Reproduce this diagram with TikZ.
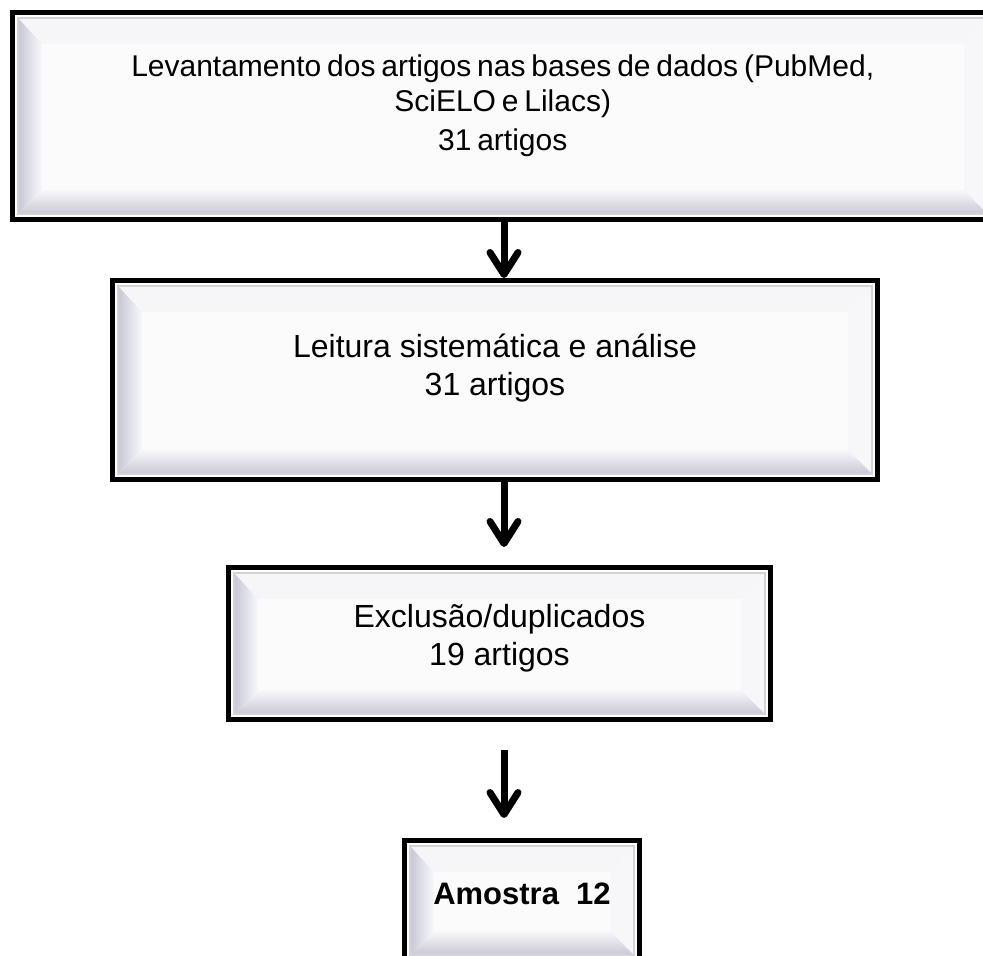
\documentclass[tikz,border=0pt]{standalone}
\usepackage{fontspec}
\setmainfont{Liberation Sans}
\newfontfamily\levfont{Liberation Sans}[WordSpace=0.7]
\usepackage{tikz}
\usetikzlibrary{arrows.meta, calc, positioning}
\definecolor{bevdark}{HTML}{C8C8D6}
\definecolor{bevlight}{HTML}{F8F8FB}
\definecolor{bevtop}{HTML}{F6F6F8}
\definecolor{bevright}{HTML}{F7F7F9}
\definecolor{bevface}{HTML}{FBFBFC}
\definecolor{bevedge}{HTML}{D4D4D8}

% bevel drawn inside a box node
\newcommand{\bevelin}[1]{%
  \coordinate (#1o1) at ($(#1.north west)+(8,8)$);
  \coordinate (#1o2) at ($(#1.north east)+(-8,8)$);
  \coordinate (#1o3) at ($(#1.south east)+(-8,-8)$);
  \coordinate (#1o4) at ($(#1.south west)+(8,-8)$);
  \coordinate (#1i1) at ($(#1o1)+(24,26)$);
  \coordinate (#1i2) at ($(#1o2)+(-24,26)$);
  \coordinate (#1i3) at ($(#1o3)+(-24,-24)$);
  \coordinate (#1i4) at ($(#1o4)+(24,-24)$);
  \fill[bevtop] (#1o1) -- (#1o2) -- (#1i2) -- (#1i1) -- cycle;
  \fill[bevright] (#1o2) -- (#1o3) -- (#1i3) -- (#1i2) -- cycle;
  \shade[left color=bevdark, right color=bevlight] (#1o1) -- (#1i1) -- (#1i4) -- (#1o4) -- cycle;
  \shade[top color=bevlight, bottom color=bevdark] (#1i4) -- (#1i3) -- (#1o3) -- (#1o4) -- cycle;
  \fill[bevface] (#1i1) rectangle (#1i3);
  \draw[bevedge, line width=1.5pt] (#1o1) rectangle (#1o3);
}

\begin{document}
\begin{tikzpicture}[x=1pt, y=-1pt,
    box/.style={draw=black, line width=5pt, fill=white, rectangle, inner sep=0pt},
    txt/.style={align=center, inner sep=0pt, font=\fontsize{32}{38}\selectfont},
    flow/.style={line width=7pt, -{Straight Barb[round, length=22pt, width=28pt]}}]
  \useasboundingbox (0,0) rectangle (983,956);
  \begin{scope}
  \clip (0,0) rectangle (983,956);

  \node[box, minimum width=980.5pt, minimum height=207pt] (lev) at (502.75,116) {};
  \node[box, minimum width=765pt, minimum height=199pt] (leit) at (495,380) {};
  \node[box, minimum width=542pt, minimum height=152pt] (excl) at (499.5,643.5) {};
  \node[box, minimum width=235pt, minimum height=120pt] (amos) at (522,900.5) {};
  \bevelin{lev}
  \bevelin{leit}
  \bevelin{excl}
  \bevelin{amos}
  \end{scope}

  \node[txt, font=\levfont\fontsize{30}{35}\selectfont] (levtxt) at ([yshift=10pt]lev.center)
    {Levantamento dos artigos nas bases de dados (PubMed,\\SciELO e Lilacs)\\[4pt]31 artigos};
  \node[txt] (leittxt) at ([yshift=12pt]leit.center) {Leitura sistemática e análise\\31 artigos};
  \node[txt] (excltxt) at ([yshift=5pt]excl.center) {Exclusão/duplicados\\19 artigos};
  \node[txt, font=\fontsize{31}{38}\selectfont\bfseries] (amostxt) at ([yshift=7pt]amos.center) {Amostra~~12};

  \coordinate (axis) at (504,0);
  \draw[flow] (lev.south -| axis) -- (leit.north -| axis);
  \draw[flow, shorten >=18pt] (leit.south -| axis) -- (excl.north -| axis);
  \draw[flow, shorten <=28pt, shorten >=20pt] (excl.south -| axis) -- (amos.north -| axis);
\end{tikzpicture}
\end{document}
